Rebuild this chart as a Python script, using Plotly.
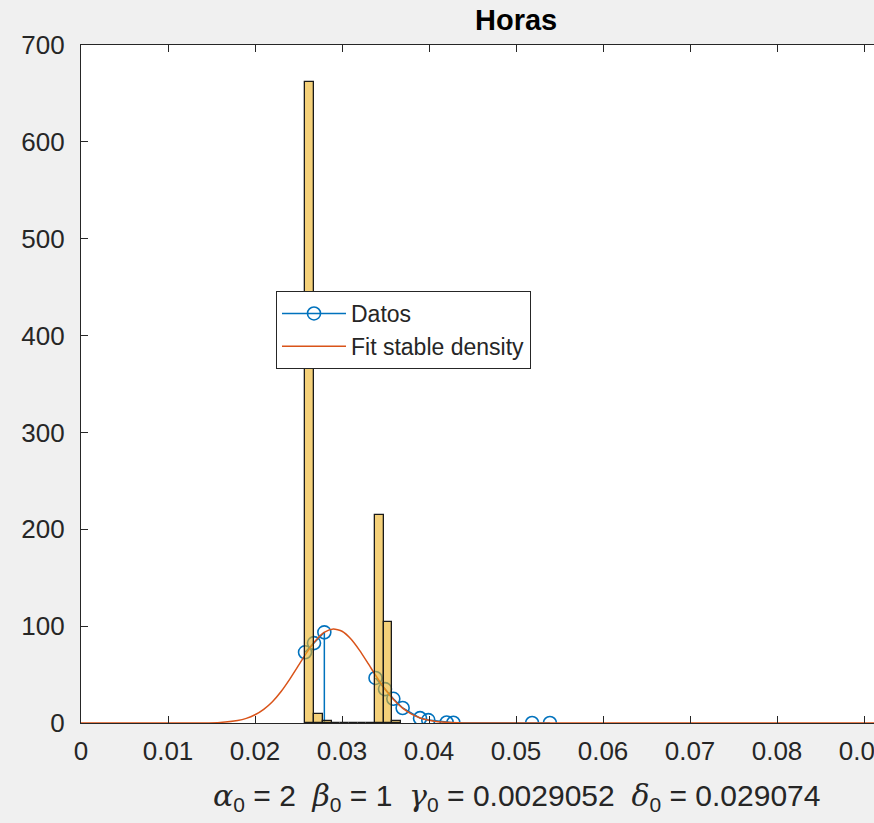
import plotly.graph_objects as go

# ---------------- data ----------------
# histogram bins (left edges, width) and counts
hist_left = [0.0258, 0.0268, 0.0278, 0.0288, 0.0298, 0.0308, 0.0318, 0.0328, 0.0338, 0.0348, 0.0358]
hist_counts = [662, 9, 2, 0, 0, 0, 0, 0, 215, 104, 2]
bin_width = 0.001

# "Datos" points
datos_x = [0.02575, 0.02678, 0.02797, 0.03385, 0.03494, 0.03590, 0.03697,
           0.03897, 0.03992, 0.04203, 0.04280, 0.05185, 0.05390]
datos_y = [73.0, 82.5, 93.6, 46.5, 35.0, 25.0, 15.5, 5.0, 3.0, 0.5, 0.3, 0.0, 0.0]

# fitted stable density curve
fit_x = [0.000, 0.010, 0.014, 0.016, 0.018, 0.019, 0.020, 0.021, 0.022, 0.023, 0.024,
         0.025, 0.026, 0.027, 0.028, 0.029, 0.030, 0.031, 0.032, 0.033, 0.034, 0.035,
         0.036, 0.037, 0.038, 0.039, 0.040, 0.041, 0.042, 0.044, 0.046, 0.050, 0.100]
fit_y = [0.0, 0.0, 0.1, 0.6, 2.6, 4.8, 8.5, 14.1, 22.0, 32.5, 45.3,
         59.4, 73.4, 85.5, 93.8, 97.1, 94.7, 87.0, 75.3, 61.5, 47.3, 34.3,
         23.4, 15.1, 9.2, 5.2, 2.8, 1.4, 0.7, 0.1, 0.0, 0.0, 0.0]

x_ticks = [0, 0.01, 0.02, 0.03, 0.04, 0.05, 0.06, 0.07, 0.08, 0.09]
x_tick_labels = ["0", "0.01", "0.02", "0.03", "0.04", "0.05", "0.06", "0.07", "0.08", "0.09"]
y_ticks = [0, 100, 200, 300, 400, 500, 600, 700]

title_text = "Horas"
params = [("α", "2"), ("β", "1"), ("γ", "0.0029052"), ("δ", "0.029074")]

# ---------------- styles ----------------
BLUE = "#0072BD"
ORANGE = "#D95319"
TXT = "#262626"
FONT = "Liberation Sans, Arial, sans-serif"
X_RANGE = [0, 0.091149]
Y_RANGE = [0, 700]

fig = go.Figure()

# Datos line (break after third point)
line_x = datos_x[:3] + [None] + datos_x[3:]
line_y = datos_y[:3] + [None] + datos_y[3:]
fig.add_trace(go.Scatter(
    x=line_x, y=line_y, mode="lines+markers", name="Datos",
    line=dict(color=BLUE, width=1.5),
    marker=dict(symbol="circle-open", size=13, color=BLUE, line=dict(width=1.6, color=BLUE)),
    connectgaps=False,
))
# vertical drop from third point
fig.add_trace(go.Scatter(
    x=[datos_x[2], datos_x[2]], y=[datos_y[2], 0], mode="lines",
    line=dict(color=BLUE, width=1.5), showlegend=False, hoverinfo="skip",
))
# fit curve
fig.add_trace(go.Scatter(
    x=fit_x, y=fit_y, mode="lines", name="Fit stable density",
    line=dict(color=ORANGE, width=1.5, shape="spline", smoothing=0.6),
))
# histogram bars (on an overlaying axis pair so they are drawn above the lines)
fig.add_trace(go.Bar(
    x=[l + bin_width / 2 for l in hist_left], y=hist_counts, width=bin_width,
    marker=dict(color="rgba(237,177,32,0.6)", line=dict(color="#1a1a1a", width=1.3)),
    showlegend=False, hoverinfo="skip", xaxis="x2", yaxis="y2",
))

label_parts = []
for g, v in params:
    label_parts.append(
        "<span style=\"font-family:'DejaVu Serif';font-style:italic\">" + g + "</span>"
        "<sub>0</sub>\u00a0=\u00a0" + v
    )
xlabel = "\u00a0\u00a0".join(label_parts)

fig.update_layout(
    width=874, height=823,
    margin=dict(l=81, r=0, t=45, b=100, pad=0, autoexpand=False),
    paper_bgcolor="#F0F0F0", plot_bgcolor="white",
    font=dict(family=FONT, color=TXT, size=26),
    showlegend=True,
    legend=dict(
        x=0.2459, y=0.6372, xanchor="left", yanchor="top",
        bgcolor="white", bordercolor=TXT, borderwidth=1,
        font=dict(size=23, color=TXT, family=FONT),
        itemwidth=64, tracegroupgap=0,
    ),
    xaxis=dict(
        range=X_RANGE, tickvals=x_ticks, ticktext=x_tick_labels,
        ticks="inside", ticklen=7, tickwidth=1, tickcolor=TXT,
        showline=True, linecolor=TXT, linewidth=1.3, mirror="ticks",
        showgrid=False, zeroline=False, ticklabeloverflow="allow",
        automargin=False,
        ticklabelstandoff=5, tickfont=dict(size=26, color=TXT),
    ),
    yaxis=dict(
        range=Y_RANGE, tickvals=y_ticks,
        ticks="inside", ticklen=7, tickwidth=1, tickcolor=TXT,
        showline=True, linecolor=TXT, linewidth=1.3, mirror=False,
        showgrid=False, zeroline=False, automargin=False,
        ticklabelstandoff=10, tickfont=dict(size=26, color=TXT),
    ),
    xaxis2=dict(range=X_RANGE, overlaying="x", visible=False, automargin=False),
    yaxis2=dict(range=Y_RANGE, overlaying="y", visible=False, automargin=False),
    annotations=[
        dict(text="<b>" + title_text + "</b>", x=0.5486, y=1.0369, xref="paper", yref="paper",
             xanchor="center", yanchor="middle", showarrow=False,
             font=dict(size=29, color="black", family=FONT)),
        dict(text=xlabel, x=0.5486, y=-0.1091, xref="paper", yref="paper",
             xanchor="center", yanchor="middle", showarrow=False,
             font=dict(size=30, color=TXT, family=FONT)),
    ],
    bargap=0,
)

fig.write_html("out.html")
